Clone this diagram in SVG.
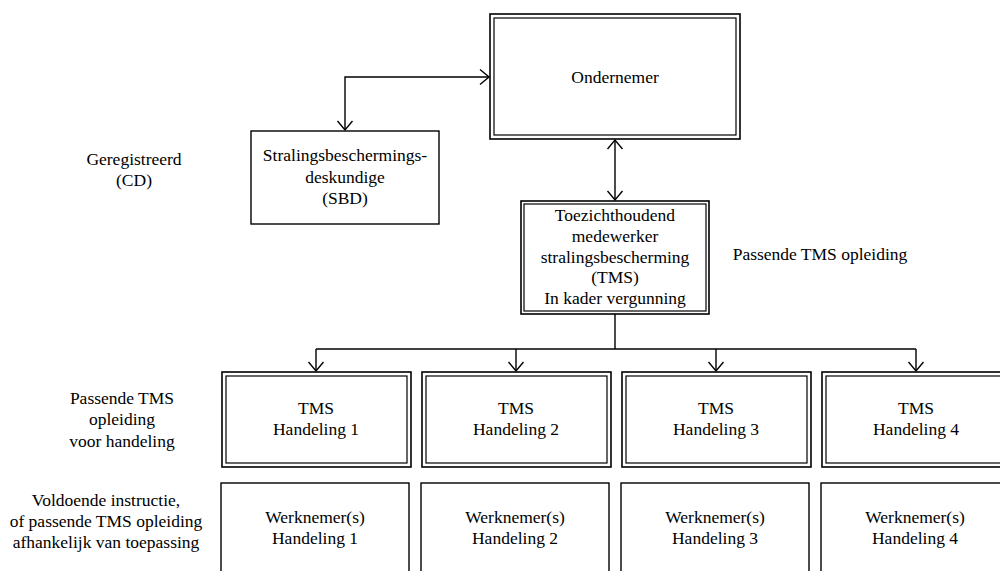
<svg xmlns="http://www.w3.org/2000/svg" width="1000" height="571" viewBox="0 0 1000 571">
<defs>
<style>
.t text{font-size:17.5px;fill:#000;text-anchor:middle}
.o{fill:#fff;stroke:#000;stroke-width:1.6}
.i{fill:none;stroke:#000;stroke-width:1.2}
.s{fill:#fff;stroke:#000;stroke-width:1.4}
.c{fill:none;stroke:#000;stroke-width:1.4}
</style>
<marker id="a" markerUnits="userSpaceOnUse" markerWidth="20" markerHeight="20" refX="0" refY="0" viewBox="-11 -10 13 20" orient="auto-start-reverse" overflow="visible">
<path d="M-9,-7.5 L0,0 L-9,7.5" fill="none" stroke="#000" stroke-width="1.4"/>
</marker>
</defs>
<rect width="1000" height="571" fill="#fff"/>
<g id="connectors">
<path class="c" d="M489,77 H345 V130" marker-start="url(#a)" marker-end="url(#a)"/>
<path class="c" d="M615,140 V200" marker-start="url(#a)" marker-end="url(#a)"/>
<path class="c" d="M615,314 V349"/>
<path class="c" d="M316,349 H916"/>
<path class="c" d="M316,349 V371" marker-end="url(#a)"/>
<path class="c" d="M516,349 V371" marker-end="url(#a)"/>
<path class="c" d="M716,349 V371" marker-end="url(#a)"/>
<path class="c" d="M916,349 V371" marker-end="url(#a)"/>
</g>
<g class="t" font-family="Liberation Serif, Times New Roman, DejaVu Serif, serif">
<g id="ondernemer">
<rect class="o" x="490" y="14" width="250" height="125"/>
<rect class="i" x="494" y="18" width="242" height="117"/>
<text x="615" y="83">Ondernemer</text>
</g>
<g id="sbd">
<rect class="s" x="251" y="131" width="188" height="93"/>
<text x="345" y="161">Stralingsbeschermings-</text>
<text x="345" y="183">deskundige</text>
<text x="345" y="204">(SBD)</text>
</g>
<g id="label-cd">
<text x="134" y="165">Geregistreerd</text>
<text x="134" y="186">(CD)</text>
</g>
<g id="tms">
<rect class="o" x="521" y="201" width="188" height="113"/>
<rect class="i" x="524" y="204" width="182" height="107"/>
<text x="615" y="221">Toezichthoudend</text>
<text x="615" y="242">medewerker</text>
<text x="615" y="263">stralingsbescherming</text>
<text x="615" y="283">(TMS)</text>
<text x="615" y="304">In kader vergunning</text>
</g>
<g id="label-tms">
<text x="820" y="260">Passende TMS opleiding</text>
</g>
<g id="label-row1">
<text x="122" y="404">Passende TMS</text>
<text x="122" y="425">opleiding</text>
<text x="122" y="447">voor handeling</text>
</g>
<g id="label-row2">
<text x="106" y="506">Voldoende instructie,</text>
<text x="106" y="527">of passende TMS opleiding</text>
<text x="106" y="548">afhankelijk van toepassing</text>
</g>
<g id="tms1">
<rect class="o" x="222" y="372" width="189" height="95"/>
<rect class="i" x="226" y="376" width="181" height="87"/>
<text x="316" y="414">TMS</text>
<text x="316" y="435">Handeling 1</text>
</g>
<g id="tms2">
<rect class="o" x="422" y="372" width="189" height="95"/>
<rect class="i" x="426" y="376" width="181" height="87"/>
<text x="516" y="414">TMS</text>
<text x="516" y="435">Handeling 2</text>
</g>
<g id="tms3">
<rect class="o" x="622" y="372" width="189" height="95"/>
<rect class="i" x="626" y="376" width="181" height="87"/>
<text x="716" y="414">TMS</text>
<text x="716" y="435">Handeling 3</text>
</g>
<g id="tms4">
<rect class="o" x="822" y="372" width="189" height="95"/>
<rect class="i" x="826" y="376" width="181" height="87"/>
<text x="916" y="414">TMS</text>
<text x="916" y="435">Handeling 4</text>
</g>
<g id="wn1">
<rect class="s" x="221" y="483" width="188" height="100"/>
<text x="315" y="523">Werknemer(s)</text>
<text x="315" y="544">Handeling 1</text>
</g>
<g id="wn2">
<rect class="s" x="421" y="483" width="188" height="100"/>
<text x="515" y="523">Werknemer(s)</text>
<text x="515" y="544">Handeling 2</text>
</g>
<g id="wn3">
<rect class="s" x="621" y="483" width="188" height="100"/>
<text x="715" y="523">Werknemer(s)</text>
<text x="715" y="544">Handeling 3</text>
</g>
<g id="wn4">
<rect class="s" x="821" y="483" width="188" height="100"/>
<text x="915" y="523">Werknemer(s)</text>
<text x="915" y="544">Handeling 4</text>
</g>
</g>
</svg>
